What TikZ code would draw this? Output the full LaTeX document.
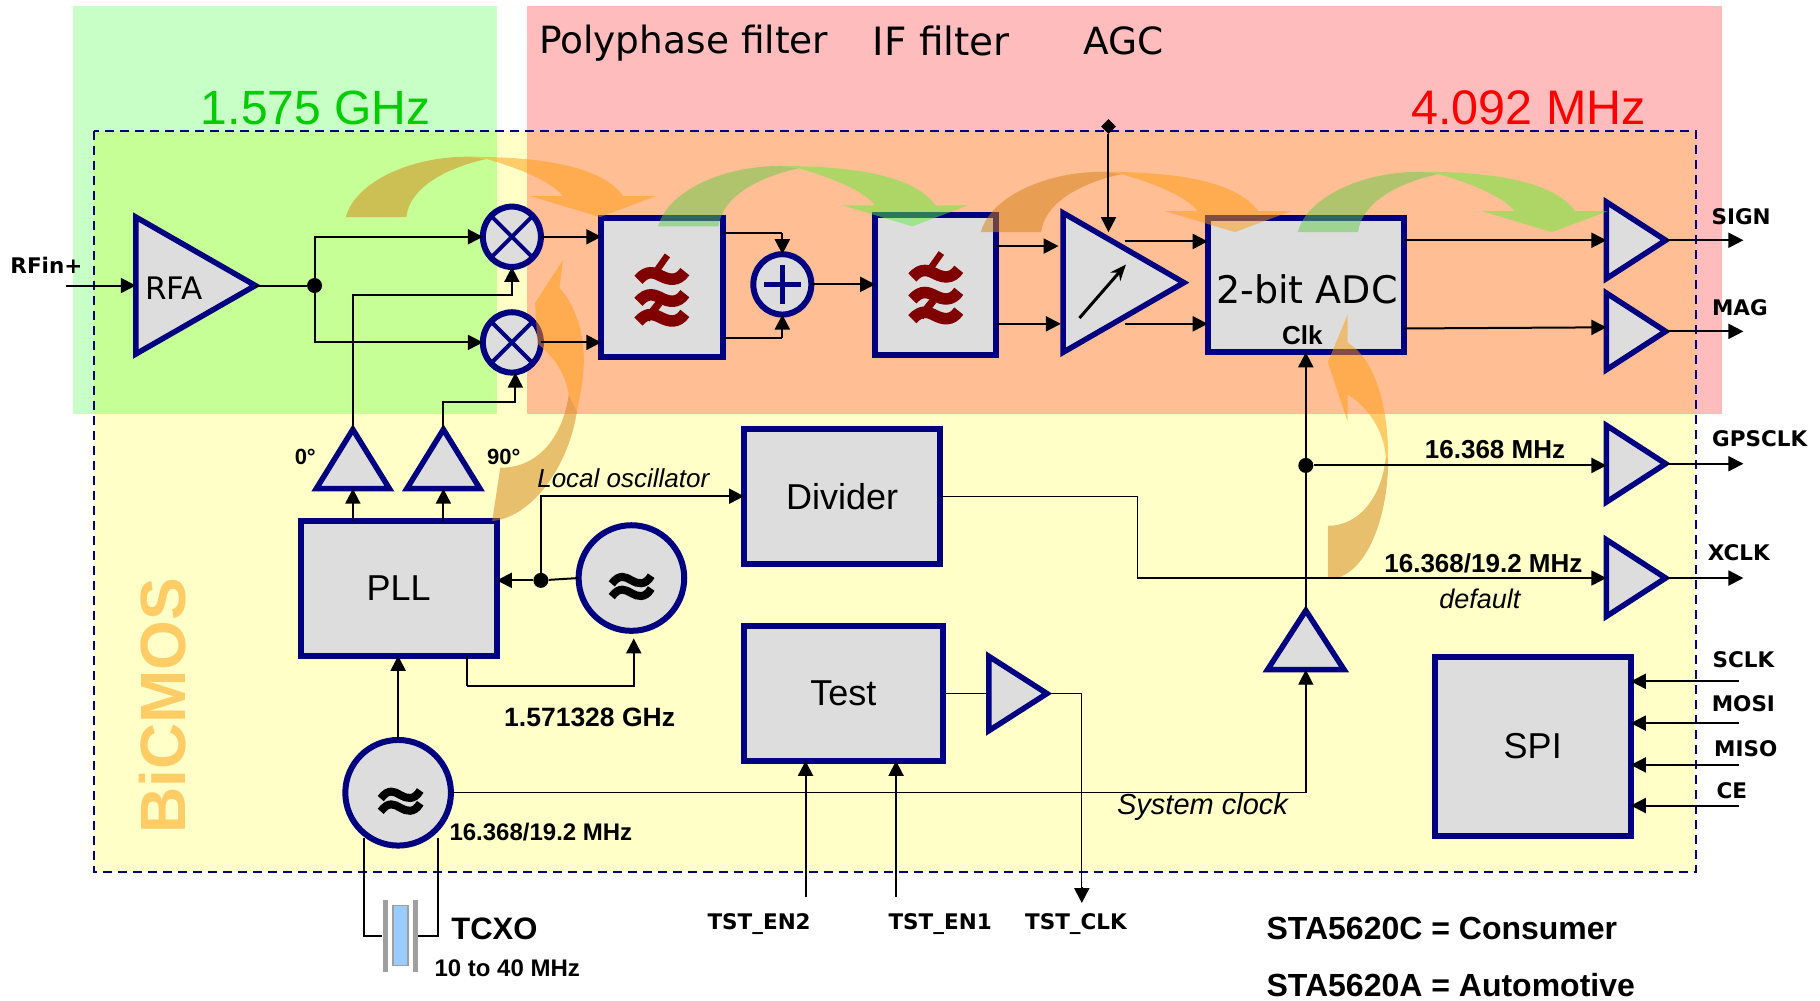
\documentclass[tikz,border=0pt]{standalone}
\usepackage{fontspec}
\setmainfont{Liberation Sans}
\newfontfamily\vrd{DejaVu Sans}
\newfontfamily\ari{Liberation Sans}
\usetikzlibrary{arrows.meta,shapes.geometric,calc}
\newcommand\fz[1]{\fontsize{#1}{#1}\selectfont}
\definecolor{navy}{RGB}{0,0,128}
\definecolor{boxgrey}{RGB}{221,221,221}
\definecolor{bgreen}{RGB}{199,255,199}
\definecolor{bpink}{RGB}{255,188,188}
\definecolor{byellow}{RGB}{255,255,200}
\definecolor{bgy}{RGB}{198,255,150}
\definecolor{bpy}{RGB}{255,190,148}
\definecolor{filtred}{RGB}{128,0,0}
\definecolor{oL}{RGB}{255,154,12}
\definecolor{oD}{RGB}{210,129,20}
\definecolor{gL}{RGB}{93,238,60}
\definecolor{gD}{RGB}{97,202,72}
\definecolor{cryst}{RGB}{153,204,255}
\tikzset{
  sz/.style 2 args={minimum width=#1*1.1607pt,minimum height=#2*1.1607pt},
  blockbox/.style={rectangle,draw=navy,fill=boxgrey,line width=6pt,inner sep=0pt,outer sep=0pt,font=\ari\fz{36}},
  roundbox/.style={ellipse,draw=navy,fill=boxgrey,line width=6pt,inner sep=0pt,outer sep=0pt},
  amp/.style={isosceles triangle,isosceles triangle stretches,draw=navy,fill=boxgrey,line width=5.5pt,inner sep=0pt,outer sep=0pt,anchor=lower side},
  ampup/.style={amp,shape border rotate=90},
  dotj/.style={circle,fill=black,inner sep=0pt,minimum size=15pt},
  wire/.style={line width=2pt,black},
  thinw/.style={line width=1.4pt,black},
  arr/.style={wire,-{Triangle[length=15pt,width=15pt]}},
  thinarr/.style={thinw,-{Triangle[length=15pt,width=15pt]}},
  sigl/.style={font=\vrd\bfseries\fz{21.5},inner sep=0pt},
  valbold/.style={font=\ari\bfseries\fz{26},inner sep=0pt},
  itl/.style={font=\ari\itshape\fz{27},inner sep=0pt},
  vtitle/.style={font=\vrd\fz{37.5},inner sep=0pt},
}
\newcommand\onewave[3]{%
  (#1-#3,#2+3) .. controls (#1-#3*.6,#2-6) and (#1-#3*.3,#2-3) .. (#1,#2) .. controls (#1+#3*.3,#2+3) and (#1+#3*.7,#2+5) .. (#1+#3,#2-4)}
\newcommand\filtsym[2]{%
  \draw[filtred,line width=11.5pt] \onewave{#1}{#2-10}{20};
  \draw[filtred,line width=11.5pt] \onewave{#1}{#2+9}{20};
  \draw[filtred,line width=11.5pt] \onewave{#1}{#2+26}{20};
  \draw[filtred,line width=6.5pt] (#1+5,#2-28) -- (#1-7,#2-11);
  \draw[filtred,line width=7.5pt] (#1-2,#2+13) -- (#1-13,#2+27);
}
\newcommand\oscsym[2]{%
  \draw[black,line width=8pt] \onewave{#1}{#2-5}{17};
  \draw[black,line width=8pt] \onewave{#1}{#2+6}{17};
}
\newcommand\bend[4]{%
  \fill[#3,opacity=.5] (#1,#2) .. controls (#1+8,#2-30) and (#1+55,#2-52) .. (#1+105,#2-52) -- (#1+121,#2-50) .. controls (#1+85,#2-42) and (#1+55,#2-25) .. (#1+52,#2) -- cycle;
  \fill[#4,opacity=.5] (#1+121,#2-50) .. controls (#1+150,#2-42) and (#1+178,#2-30) .. (#1+187,#2-18) -- (#1+159,#2-18) -- (#1+219,#2) -- (#1+267,#2-18) -- (#1+239,#2-18) .. controls (#1+222,#2-42) and (#1+175,#2-52) .. (#1+105,#2-52) -- cycle;
}
\begin{document}
\begin{tikzpicture}[x=1.1607pt,y=-1.1607pt]
\useasboundingbox (0,0) rectangle (1568,862.4);
\fill[white] (0,0) rectangle (1568,862.4);
% backgrounds
\fill[bgreen] (63,5) rectangle (428,357);
\fill[bpink] (454,5) rectangle (1483.5,357);
\fill[byellow] (81,113) rectangle (1461,751);
\fill[bgy] (81,113) rectangle (428,357);
\fill[bpy] (454,113) rectangle (1461,357);
\draw[navy,line width=2pt,dash pattern=on 9pt off 6pt] (81,113) rectangle (1461,751);
% titles
\node[font=\ari\fz{48},text={rgb,255:red,0;green,204;blue,0},inner sep=0pt] (tghz) at (272,93) {1.575 GHz};
\node[font=\ari\fz{48.5},text=red,inner sep=0pt] (tmhz) at (1317,93) {4.092 MHz};
\node[vtitle] (tpoly) at (589,37) {Polyphase filter};
\node[vtitle,font=\vrd\fz{39}] (tif) at (811,35) {IF filter};
\node[vtitle] (tagc) at (968,35) {AGC};
\node[font=\ari\bfseries\fz{64},text={rgb,255:red,255;green,204;blue,102},rotate=90,inner sep=0pt] (tbic) at (140,608) {BiCMOS};
% blocks
\node[amp,sz={118}{103}] (rfa) at (117,246) {};
\node[roundbox,sz={50}{52}] (mix1) at (441,204) {};
\node[roundbox,sz={50}{52}] (mix2) at (441,295) {};
\draw[navy,line width=4pt] (mix1.45) -- (mix1.225) (mix1.135) -- (mix1.315);
\draw[navy,line width=4pt] (mix2.45) -- (mix2.225) (mix2.135) -- (mix2.315);
\node[blockbox,sz={105}{120}] (flt1) at (570.5,247.5) {};
\node[roundbox,sz={50}{52}] (add) at (674,245) {};
\draw[navy,line width=4.5pt] (add.north)++(0,9) -- ++(0,34) ($(add.west)+(9,0)$) -- ++(32,0);
\node[blockbox,sz={104}{120}] (flt2) at (806,245.5) {};
\node[amp,sz={120}{104}] (vga) at (916,243.5) {};
\node[blockbox,sz={169}{116}] (adc) at (1125,245.5) {};
\node[blockbox,sz={169}{116}] (pll) at (343.5,507) {\raisebox{-1.2pt}{PLL}};
\node[blockbox,sz={169}{116}] (div) at (725.5,427.5) {Divider};
\node[blockbox,sz={171}{116}] (test) at (726.5,597.5) {\raisebox{-1.2pt}{Test}};
\node[blockbox,sz={169}{154}] (spi) at (1320.5,643) {\raisebox{-1.2pt}{SPI}};
\node[roundbox,sz={91}{91}] (osc1) at (544,498) {};
\node[roundbox,sz={91}{91}] (osc2) at (343,683) {};
\node[ampup,sz={63}{51}] (b0) at (304,421) {};
\node[ampup,sz={63}{51}] (b90) at (382,421) {};
\node[ampup,sz={66}{51}] (cbuf) at (1125,577) {};
\node[amp,sz={64}{50}] (tbuf) at (852,597.5) {};
\node[amp,sz={66}{51}] (sbuf) at (1384,207) {};
\node[amp,sz={66}{51}] (mbuf) at (1384,285.5) {};
\node[amp,sz={66}{51}] (gbuf) at (1384,399.5) {};
\node[amp,sz={66}{51}] (xbuf) at (1384,498) {};
% crystal
\node[rectangle,fill=gray!75,minimum width=5.5pt,minimum height=72pt,inner sep=0pt] (pl) at (332,806) {};
\node[rectangle,fill=gray!75,minimum width=5.5pt,minimum height=72pt,inner sep=0pt] (pr) at (358,806) {};
\node[rectangle,fill=cryst,draw=gray!75,line width=1.6pt,minimum width=15pt,minimum height=60pt,inner sep=0pt] (xtal) at (345,806) {};
% symbols
\filtsym{570}{248}
\filtsym{806}{246}
\oscsym{544}{505}
\oscsym{345}{690}
% curved block arrows
\bend{298}{187}{oD}{oL}
\bend{567}{195}{gD}{gL}
\bend{845}{200}{oD}{oL}
\bend{1118}{200}{gD}{gL}
\fill[oD,opacity=.5] (1144,499) .. controls (1175,499) and (1196,450) .. (1196,395) -- (1194,394) .. controls (1190,430) and (1170,453) .. (1144,453) -- cycle;
\fill[oL,opacity=.5] (1194,394) .. controls (1192,370) and (1178,350) .. (1161,340) -- (1161,363) -- (1144,312) -- (1161,271) -- (1161,295) .. controls (1185,310) and (1196,350) .. (1196,395) -- cycle;
\fill[oD,opacity=.5] (424,449) .. controls (460,445) and (490,400) .. (497,355) -- (490,340) .. controls (485,375) and (465,403) .. (431,403) -- cycle;
\fill[oL,opacity=.5] (490,340) .. controls (487,322) and (478,308) .. (463,296) -- (461,261) -- (485,224) -- (482,248) .. controls (495,262) and (503,285) .. (503,310) .. controls (503,325) and (500,340) .. (497,355) -- cycle;
% junctions and free ends
\node[dotj] (jrf) at (271,246) {};
\node[dotj] (jlo) at (466,500) {};
\node[dotj] (jclk) at (1125,401) {};
\node[diamond,fill=black,inner sep=0pt,minimum size=15pt] (ctl) at (955,109) {};
\coordinate (rfin) at (57,246);
\coordinate (lo1) at (441,254);
\coordinate (lo2) at (444,346);
\coordinate (vg) at (955,200);
\coordinate (a1) at (674,201);
\coordinate (a2) at (674,291);
\coordinate (v1) at (912,212);
\coordinate (v2) at (914,279);
\coordinate (vo1) at (969,208);
\coordinate (vo2) at (969,279);
\coordinate (p1) at (402,591);
\coordinate (p2) at (546,550);
\coordinate (dv) at (980,498);
\coordinate (so) at (1502,207);
\coordinate (mo) at (1502,285.5);
\coordinate (go) at (1502,399.5);
\coordinate (xo) at (1502,498);
\coordinate (tc) at (932,778);
\coordinate (en2) at (694,773);
\coordinate (en1) at (772,773);
\coordinate (in1) at (1498,587);
\coordinate (in2) at (1498,623);
\coordinate (in3) at (1498,659);
\coordinate (in4) at (1498,694);
\coordinate (xa) at (314,722);
\coordinate (xb) at (377,722);
% connectors
\draw[arr] (rfin) -- (rfa.lower side);
\draw[wire] (rfa.apex) -- (jrf);
\draw[arr] (jrf) |- (mix1.west);
\draw[arr] (jrf) |- (mix2.west);
\draw[arr] (mix1.east) -- (mix1.east -| flt1.west);
\draw[arr] (mix2.east) -- (mix2.east -| flt1.west);
\draw[arr] (b0.apex) |- (lo1) -- (mix1.south);
\draw[arr] (b90.apex) |- (lo2) -- (lo2 |- mix2.south);
\draw[arr] (b0.lower side |- pll.north) -- (b0.lower side);
\draw[arr] (b90.lower side |- pll.north) -- (b90.lower side);
\draw[wire] (flt1.east |- a1) -- (a1);
\draw[arr] (a1) -- (add.north);
\draw[wire] (flt1.east |- a2) -- (a2);
\draw[arr] (a2) -- (add.south);
\draw[arr] (add.east) -- (add.east -| flt2.west);
\draw[arr] (flt2.east |- v1) -- (v1);
\draw[arr] (flt2.east |- v2) -- (v2);
\draw[arr] (ctl) -- (vg);
\draw[arr] (vo1) -- (vo1 -| adc.west);
\draw[arr] (vo2) -- (vo2 -| adc.west);
\draw[wire,line width=3pt,-{Stealth[length=16pt,width=13pt]}] (930,274) -- (970,228);
\draw[arr] (adc.east |- sbuf.lower side) -- (sbuf.lower side);
\draw[arr] (adc.east |- 0,283) -- (mbuf.lower side |- 0,282);
\draw[arr] (cbuf.apex) -- (cbuf.apex |- adc.south);
\draw[arr] (jclk) -- (jclk -| gbuf.lower side);
\draw[arr] (sbuf.apex) -- (so);
\draw[arr] (mbuf.apex) -- (mo);
\draw[arr] (gbuf.apex) -- (go);
\draw[arr] (xbuf.apex) -- (xo);
\draw[wire] (osc1.west) -- (jlo);
\draw[arr] (jlo) -- (jlo -| pll.east);
\draw[arr] (jlo) |- (div.west);
\draw[thinarr] (div.east) -| (dv) -- (xbuf.lower side);
\draw[wire] (p1 |- pll.south) -- (p1);
\draw[arr] (p1) -| (p2);
\draw[arr] (osc2.north) -- (osc2.north |- pll.south);
\draw[thinarr] (osc2.east) -| (cbuf.lower side);
\draw[thinw] (test.east) -- (tbuf.lower side);
\draw[thinw] (tbuf.apex) -| ($(tc)+(0,-14)$);
\draw[arr] ($(tc)+(0,-14)$) -- (tc);
\draw[arr] (en2) -- (en2 |- test.south);
\draw[arr] (en1) -- (en1 |- test.south);
\draw[arr] (in1) -- (in1 -| spi.east);
\draw[arr] (in2) -- (in2 -| spi.east);
\draw[arr] (in3) -- (in3 -| spi.east);
\draw[arr] (in4) -- (in4 -| spi.east);
\draw[wire] (xa) |- (pl);
\draw[wire] (xb) |- (pr);
% labels
\node[font=\vrd\fz{31},inner sep=0pt] (trfa) at (150,248) {RFA};
\node[font=\vrd\fz{38},inner sep=0pt] (tadc) at (1126,249) {2-bit ADC};
\node[font=\ari\bfseries\fz{26},inner sep=0pt] (tclk) at (1122,289) {Clk};
\node[sigl] (lrf) at (40,229) {RFin+};
\node[sigl] (lsign) at (1500,187) {SIGN};
\node[sigl] (lmag) at (1499,265) {MAG};
\node[sigl] (lgps) at (1516,378) {GPSCLK};
\node[sigl] (lx) at (1498,476) {XCLK};
\node[sigl] (lsc) at (1502,568) {SCLK};
\node[sigl] (lmo) at (1502,606) {MOSI};
\node[sigl] (lmi) at (1504,645) {MISO};
\node[sigl] (lce) at (1492,681) {CE};
\node[sigl] (le2) at (654,796) {TST\_EN2};
\node[sigl] (le1) at (810,796) {TST\_EN1};
\node[sigl] (lck) at (927,796) {TST\_CLK};
\node[font=\ari\bfseries\fz{22},inner sep=0pt] (l0) at (263,394) {0°};
\node[font=\ari\bfseries\fz{22},inner sep=0pt] (l90) at (434,394) {90°};
\node[itl,font=\ari\itshape\fz{26}] (llo) at (537,412) {Local oscillator};
\node[itl] (ldf) at (1275,516) {default};
\node[itl,font=\ari\itshape\fz{29}] (lsys) at (1036,695) {System clock};
\node[valbold] (l16a) at (1288,387) {16.368 MHz};
\node[valbold] (l16b) at (1278,485) {16.368/19.2 MHz};
\node[valbold,font=\ari\bfseries\fz{26.5}] (lghz) at (508,618) {1.571328 GHz};
\node[valbold,font=\ari\bfseries\fz{24}] (l16c) at (466,717) {16.368/19.2 MHz};
\node[font=\ari\bfseries\fz{31},inner sep=0pt] (ltc) at (426,800) {TCXO};
\node[valbold,font=\ari\bfseries\fz{24}] (l10) at (437,834) {10 to 40 MHz};
\node[font=\ari\bfseries\fz{32},inner sep=0pt,anchor=west] (lcons) at (1091,800) {STA5620C = Consumer};
\node[font=\ari\bfseries\fz{32},inner sep=0pt,anchor=west] (lauto) at (1091,849) {STA5620A = Automotive};
\end{tikzpicture}
\end{document}
